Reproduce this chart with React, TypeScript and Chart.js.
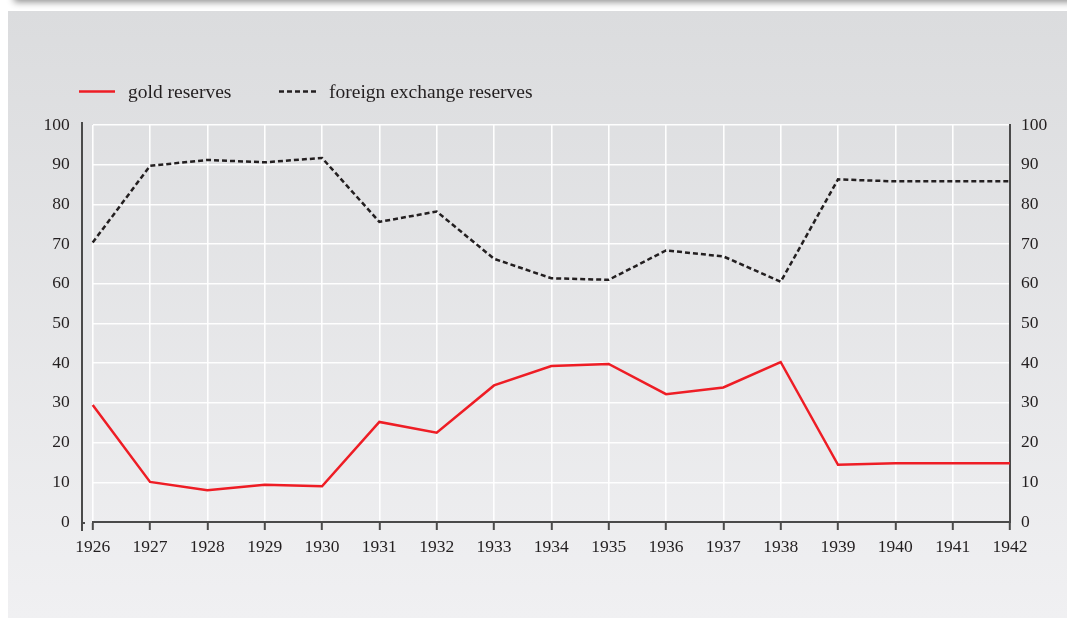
import React, { useEffect, useRef } from "react";
import { Chart, registerables } from "chart.js";

Chart.register(...registerables);

const years = [1926, 1927, 1928, 1929, 1930, 1931, 1932, 1933, 1934, 1935, 1936, 1937, 1938, 1939, 1940, 1941, 1942];
const goldReserves = [29.5, 10.1, 8.0, 9.4, 9.0, 25.2, 22.5, 34.4, 39.3, 39.8, 32.2, 33.9, 40.3, 14.4, 14.8, 14.8, 14.8];
const foreignExchangeReserves = [70.4, 89.7, 91.2, 90.6, 91.7, 75.6, 78.2, 66.3, 61.4, 61.0, 68.4, 66.9, 60.5, 86.3, 85.8, 85.8, 85.8];
const yTickValues = [0, 10, 20, 30, 40, 50, 60, 70, 80, 90, 100];
const seriesLabels = ["gold reserves", "foreign exchange reserves"];

const RED = "#ee1d25";
const DARK = "#231f20";
const AXIS = "#4a4a4a";
const FONT = "'Liberation Serif', 'Times New Roman', serif";

const legendPlugin = {
  id: "customLegend",
  afterDraw(chart: any) {
    const ctx = chart.ctx;
    ctx.save();
    const y = 91.5;
    ctx.lineWidth = 2.5;
    ctx.strokeStyle = RED;
    ctx.setLineDash([]);
    ctx.beginPath();
    ctx.moveTo(79, y);
    ctx.lineTo(115, y);
    ctx.stroke();
    ctx.strokeStyle = DARK;
    ctx.setLineDash([5, 3]);
    ctx.beginPath();
    ctx.moveTo(279, y);
    ctx.lineTo(316, y);
    ctx.stroke();
    ctx.setLineDash([]);
    ctx.fillStyle = DARK;
    ctx.font = `19.5px ${FONT}`;
    ctx.textBaseline = "middle";
    ctx.textAlign = "left";
    ctx.fillText(seriesLabels[0], 128, y + 1.5);
    ctx.fillText(seriesLabels[1], 329, y + 1.5);
    ctx.restore();
  },
};

const leftAxisPlugin = {
  id: "leftAxisLine",
  beforeDatasetsDraw(chart: any) {
    const { ctx, chartArea } = chart;
    const x = Math.round(chartArea.left - 10.5);
    ctx.save();
    ctx.strokeStyle = AXIS;
    ctx.lineWidth = 2;
    ctx.beginPath();
    ctx.moveTo(x, chartArea.top - 3);
    ctx.lineTo(x, chartArea.bottom + 9);
    ctx.stroke();
    ctx.beginPath();
    ctx.moveTo(x, chartArea.bottom + 1);
    ctx.lineTo(x + 3, chartArea.bottom + 1);
    ctx.stroke();
    ctx.restore();
  },
};

export default function App() {
  const canvasRef = useRef<HTMLCanvasElement | null>(null);

  useEffect(() => {
    document.body.style.margin = "0";
    document.body.style.overflow = "hidden";
    const canvas = canvasRef.current;
    if (!canvas) return;
    Chart.defaults.font.family = FONT;
    Chart.defaults.font.size = 17;
    Chart.defaults.color = DARK;

    const chart = new Chart(canvas, {
      type: "line",
      data: {
        datasets: [
          {
            label: seriesLabels[0],
            data: years.map((yr, i) => ({ x: yr, y: goldReserves[i] })),
            borderColor: RED,
            borderWidth: 2.5,
            pointRadius: 0,
            tension: 0,
            fill: false,
            clip: false as any,
            yAxisID: "y",
          },
          {
            label: seriesLabels[1],
            data: years.map((yr, i) => ({ x: yr, y: foreignExchangeReserves[i] })),
            borderColor: DARK,
            borderWidth: 2.5,
            borderDash: [5, 3],
            pointRadius: 0,
            tension: 0,
            fill: false,
            clip: false as any,
            yAxisID: "y",
          },
        ],
      },
      options: {
        animation: false,
        responsive: false,
        devicePixelRatio: 1,
        layout: { padding: { top: 125, left: 0, right: 0, bottom: 0 } },
        plugins: {
          legend: { display: false },
          tooltip: { enabled: false },
        },
        scales: {
          x: {
            type: "linear",
            min: years[0],
            max: years[years.length - 1],
            afterBuildTicks: (axis: any) => {
              axis.ticks = years.map((v) => ({ value: v }));
            },
            afterFit: (scale: any) => {
              scale.height = 96;
            },
            ticks: {
              padding: 7,
              maxRotation: 0,
              autoSkip: false,
              callback: (v: any) => String(v),
              color: DARK,
              font: { size: 17.5 },
            },
            grid: {
              color: "rgba(255,255,255,0.95)",
              lineWidth: 1.6,
              tickColor: AXIS,
              tickLength: 8,
              tickWidth: 2,
            },
            border: { display: true, color: AXIS, width: 2 },
          },
          y: {
            type: "linear",
            position: "left",
            min: 0,
            max: 100,
            afterBuildTicks: (axis: any) => {
              axis.ticks = yTickValues.map((v) => ({ value: v }));
            },
            afterFit: (scale: any) => {
              scale.width = 92.7;
            },
            ticks: { padding: 23, color: DARK, font: { size: 17.5 } },
            grid: {
              color: "rgba(255,255,255,0.95)",
              lineWidth: 1.6,
              drawTicks: false,
            },
            border: { display: false },
          },
          y2: {
            type: "linear",
            position: "right",
            min: 0,
            max: 100,
            afterBuildTicks: (axis: any) => {
              axis.ticks = yTickValues.map((v) => ({ value: v }));
            },
            afterFit: (scale: any) => {
              scale.width = 57;
            },
            ticks: { padding: 11, color: DARK, font: { size: 17.5 } },
            grid: { display: false, drawTicks: false },
            border: { display: true, color: AXIS, width: 2 },
          },
        },
      },
      plugins: [leftAxisPlugin, legendPlugin],
    } as any);

    return () => {
      chart.destroy();
    };
  }, []);

  return (
    <div style={{ position: "fixed", left: 0, top: 0, width: 1067, height: 618, overflow: "hidden", background: "#ffffff" }}>
      <div
        style={{
          position: "absolute",
          left: 14,
          top: -30,
          width: 1100,
          height: 30,
          background: "#e6e6e6",
          boxShadow: "0 2px 7px rgba(0,0,0,0.45)",
        }}
      />
      <div
        style={{
          position: "absolute",
          left: 8,
          top: 11,
          width: 1059,
          height: 607,
          background: "linear-gradient(to bottom, #dbdcde 0%, #f0f0f2 100%)",
        }}
      />
      <canvas
        ref={canvasRef}
        width={1067}
        height={618}
        style={{ position: "absolute", left: 0, top: 0, width: 1067, height: 618, display: "block" }}
      />
    </div>
  );
}
